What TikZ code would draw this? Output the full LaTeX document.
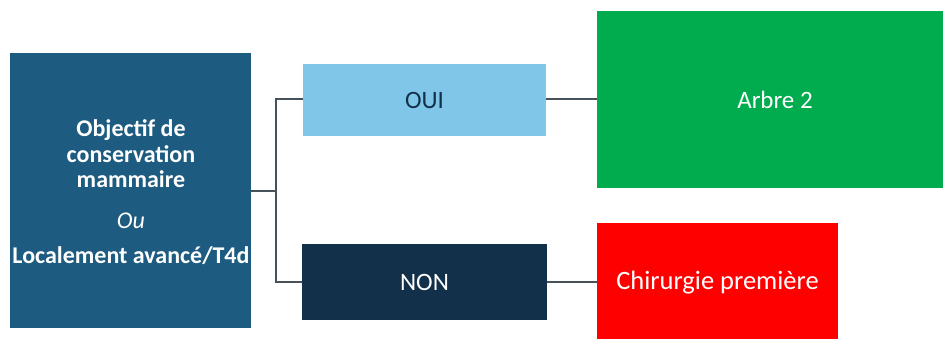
\documentclass[tikz,border=0pt]{standalone}
\usepackage{fontspec}
\setmainfont{Carlito}
\definecolor{mainblue}{HTML}{1D5B80}
\definecolor{lightblue}{HTML}{80C6E9}
\definecolor{navy}{HTML}{13304A}
\definecolor{boxgreen}{HTML}{00AC4E}
\definecolor{boxred}{HTML}{FF0000}
\definecolor{linkgray}{HTML}{46515A}
\begin{document}
\begin{tikzpicture}[x=1pt,y=-1pt,
  box/.style={draw=none,inner sep=0pt,font=\fontsize{25}{26}\selectfont},
  link/.style={draw=linkgray,line width=2pt}]
\useasboundingbox (0,0) rectangle (943,338);
% boxes, drawn from their corners
\fill[mainblue] (10,53) rectangle (251,328);
\fill[lightblue] (303,64) rectangle (546,136);
\fill[navy] (302,244) rectangle (547,320);
\fill[boxgreen] (597,11) rectangle (955,188);
\fill[boxred] (597,223) rectangle (838,345);
% text nodes
\node[box,text=white,align=center,font=\fontsize{24}{25.5}\selectfont\bfseries] (goal) at (131,192.5)
  {Objectif de\\conservation\\mammaire\\[15pt]{\mdseries\itshape Ou}\\[10pt]Localement avancé/T4d};
\node[box,text=navy] (oui) at (424.5,100) {OUI};
\node[box,text=white] (non) at (424.5,282) {NON};
\node[box,text=white] (arbre) at (775,100) {Arbre 2};
\node[box,text=white,font=\fontsize{26.5}{27}\selectfont] (chir) at (717.5,283) {Chirurgie première};
% named anchors for the connectors
\coordinate (goalR) at (251,191);
\coordinate (fork) at (276,191);
\coordinate (ouiL) at (303,99);
\coordinate (nonL) at (302,282);
\coordinate (ouiR) at (546,99);
\coordinate (nonR) at (547,282);
\coordinate (arbreL) at (597,99);
\coordinate (chirL) at (597,282);
\draw[link] (goalR) -- (fork);
\draw[link] (ouiL) -| (fork) |- (nonL);
\draw[link] (ouiR) -- (arbreL);
\draw[link] (nonR) -- (chirL);
\end{tikzpicture}
\end{document}
